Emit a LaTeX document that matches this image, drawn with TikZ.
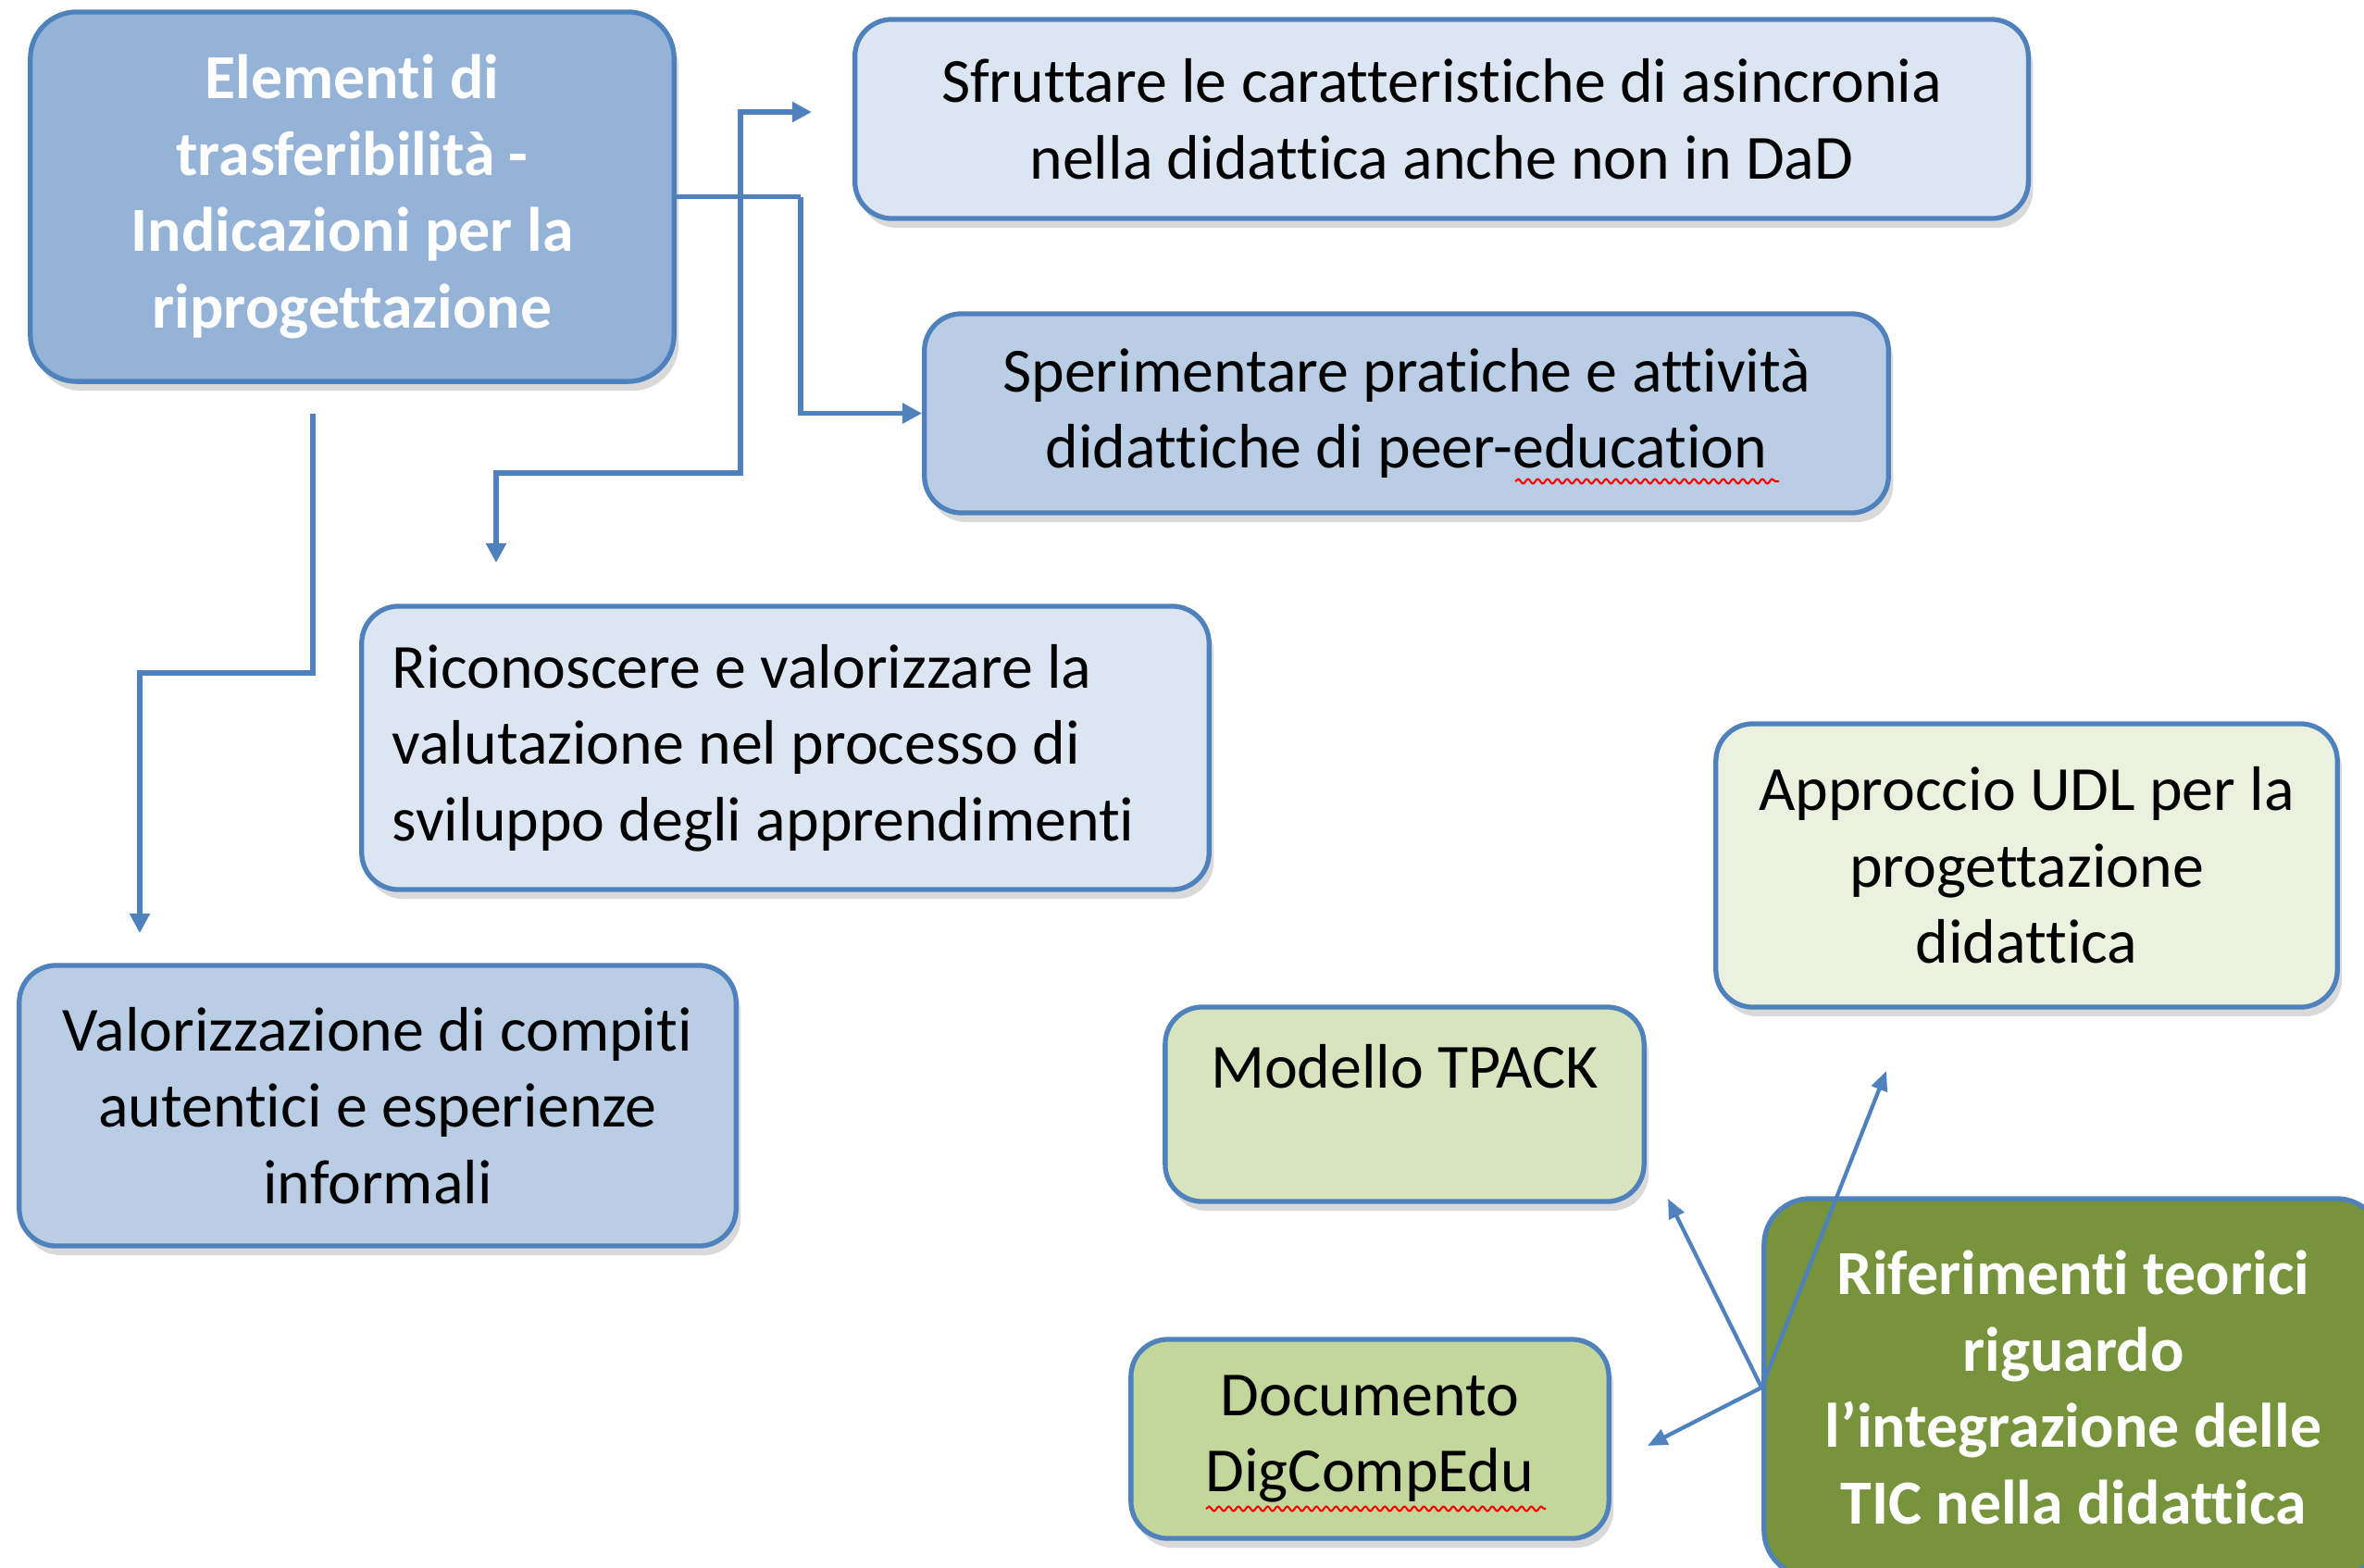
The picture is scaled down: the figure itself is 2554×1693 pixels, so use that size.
\documentclass[tikz,border=0pt]{standalone}
\usepackage{fontspec}
\setmainfont{Carlito}[Ligatures=NoCommon]
\usetikzlibrary{arrows.meta,shadows,decorations.pathmorphing}
\definecolor{boxline}{HTML}{4F81BD}
\definecolor{rootfill}{HTML}{95B3D7}
\definecolor{palefill}{HTML}{DCE6F2}
\definecolor{midfill}{HTML}{B9CDE5}
\definecolor{udlfill}{HTML}{EBF1DE}
\definecolor{tpackfill}{HTML}{D7E4BD}
\definecolor{digfill}{HTML}{C3D69B}
\definecolor{riffill}{HTML}{77933C}
\newcommand{\boxfont}{\fontsize{19.3}{23.5}\selectfont}
\begin{document}
\begin{tikzpicture}[x=0.01cm, y=-0.01cm,
    box/.style={draw=boxline, line width=1.5pt, rounded corners=0.4cm, align=center, font=\boxfont,
      drop shadow={opacity=0.3, shadow xshift=0.05cm, shadow yshift=-0.1cm}},
    link/.style={boxline, line width=1.6pt, -{Triangle[length=6pt,width=6pt]}},
    thinlink/.style={boxline, line width=1.2pt, -{Triangle[length=6pt,width=5pt]}},
    spell/.style={red, line width=0.6pt, decorate, decoration={snake, amplitude=0.7pt, segment length=3pt}}]
    \useasboundingbox (0,0) rectangle (2554,1693);
    % Elementi di trasferibilita
    \node[box, fill=rootfill, text=white, font=\boxfont\bfseries, rounded corners=0.5cm,
      minimum width=6.95cm, minimum height=3.99cm] (root) at (380.5,212.5)
      {Elementi di\\trasferibilità -\\Indicazioni per la\\riprogettazione};
    \node[box, fill=palefill, minimum width=12.67cm, minimum height=2.15cm] (asinc) at (1557.5,128.5)
      {Sfruttare le caratteristiche di asincronia\\nella didattica anche non in DaD};
    \node[box, fill=midfill, minimum width=10.41cm, minimum height=2.15cm] (peer) at (1519.5,446.5)
      {Sperimentare pratiche e attività\\didattiche di peer-education};
    \node[box, fill=palefill, align=flush left, text width=8.49cm, inner xsep=0.33cm, minimum height=3.06cm] (valut) at (848.5,808)
      {Riconoscere e valorizzare la\\valutazione nel processo di\\sviluppo degli apprendimenti};
    \node[box, fill=midfill, minimum width=7.74cm, minimum height=3.03cm] (compiti) at (408,1194.5)
      {Valorizzazione di compiti\\autentici e esperienze\\informali};
    
    % Riferimenti teorici
    \node[box, fill=udlfill, minimum width=6.71cm, minimum height=3.06cm] (udl) at (2189.5,935)
      {Approccio UDL per la\\progettazione\\didattica};
    \node[box, fill=tpackfill, minimum width=5.17cm, minimum height=2.1cm] (tpack) at (1517.5,1193)
      {Modello TPACK\\\mbox{}};
    \node[box, fill=digfill, minimum width=5.16cm, minimum height=2.15cm] (digcomp) at (1480,1554.5)
      {Documento\\DigCompEdu};
    \node[box, fill=riffill, text=white, font=\boxfont\bfseries, rounded corners=0.5cm,
      minimum width=6.68cm, minimum height=4.08cm] (rif) at (2240,1499)
      {Riferimenti teorici\\riguardo\\l’integrazione delle\\TIC nella didattica};
    
    % spell check marks
    \draw[spell] (1637,520) -- (1922,520);
    \draw[spell] (1303,1630) -- (1670,1630);
    
    % connectors
    \coordinate (split1) at (800,212.5);
    \coordinate (split2) at (865,212.5);
    \coordinate (tipA) at (877,121);
    \coordinate (tipC) at (536,608);
    \coordinate (startD) at (338,447);
    \coordinate (tipD) at (151,1008);
    \coordinate (tipE) at (2038,1157);
    \coordinate (tipF) at (1802,1295);
    \coordinate (tipG) at (1780,1562);
    \draw[link, -] (root.east) -- (split2);
    \draw[link] (split2) |- (peer.west);
    \draw[link] (split1) |- (tipA);
    \draw[link] (split1) -- (800,511) -| (tipC);
    \draw[link] (startD) -- (338,727) -| (tipD);
    \draw[thinlink] (rif.west) -- (tipE);
    \draw[thinlink] (rif.west) -- (tipF);
    \draw[thinlink] (rif.west) -- (tipG);
\end{tikzpicture}
\end{document}
